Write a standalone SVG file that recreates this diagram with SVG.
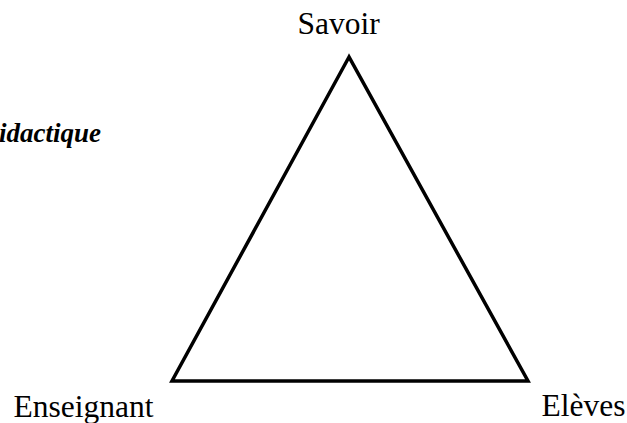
<svg xmlns="http://www.w3.org/2000/svg" width="627" height="423" viewBox="0 0 627 423">
<style>
text{font-family:'Liberation Serif','DejaVu Serif',serif;fill:#000}
.lbl{font-size:31.5px}
.ttl{font-size:27px;font-weight:bold;font-style:italic}
</style>
<rect width="627" height="423" fill="#fff"/>
<text class="ttl" x="101" y="142" text-anchor="end">idactique</text>
<g id="connectors">
<polygon points="349,57 172,381 528,381" fill="none" stroke="#000" stroke-width="3.5" stroke-linejoin="miter"/>
</g>
<g id="savoir"><text class="lbl" x="338.5" y="34" text-anchor="middle">Savoir</text></g>
<g id="enseignant"><text class="lbl" x="83.5" y="417" text-anchor="middle">Enseignant</text></g>
<g id="eleves"><text class="lbl" x="583.5" y="416" text-anchor="middle">Elèves</text></g>
</svg>
